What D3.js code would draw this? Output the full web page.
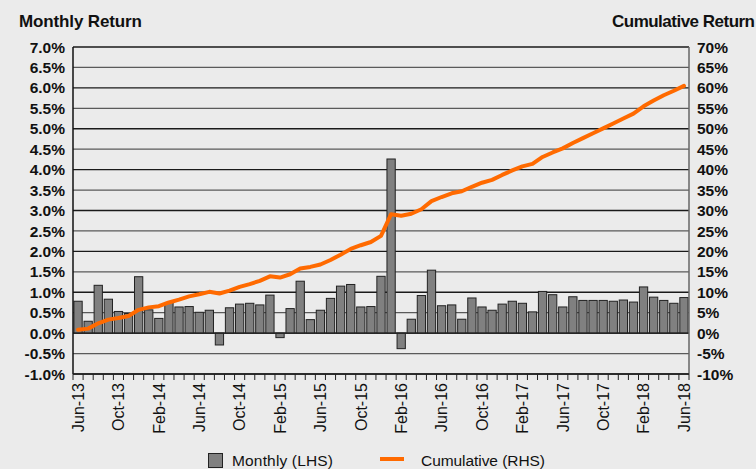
<!DOCTYPE html>
<html>
<head>
<meta charset="utf-8">
<script src="https://cdn.jsdelivr.net/npm/d3@7"></script>
<style>
  html, body { margin: 0; padding: 0; background: #ebebeb; }
  svg { display: block; font-family: "Liberation Sans", Arial, sans-serif; }
</style>
</head>
<body>
<div id="chart"></div>
<script>
// Monthly returns (%) Jun-13 .. Jun-18
const monthly = [
  0.78, 0.29, 1.17, 0.83, 0.53, 0.48, 1.38, 0.57, 0.36, 0.75,
  0.64, 0.65, 0.51, 0.56, -0.29, 0.62, 0.71, 0.73, 0.69, 0.93,
  -0.11, 0.60, 1.27, 0.33, 0.56, 0.85, 1.15, 1.19, 0.64, 0.65,
  1.39, 4.26, -0.38, 0.34, 0.92, 1.54, 0.67, 0.69, 0.34, 0.86,
  0.64, 0.56, 0.71, 0.78, 0.73, 0.52, 1.02, 0.94, 0.64, 0.89,
  0.80, 0.80, 0.80, 0.78, 0.81, 0.76, 1.13, 0.88, 0.80, 0.73,
  0.87
];

// Cumulative return (%)
const cumulative = [
  0.8, 1.1, 2.4, 3.3, 3.7, 4.2, 5.7, 6.3, 6.6, 7.5,
  8.2, 9.0, 9.5, 10.1, 9.7, 10.4, 11.3, 12.0, 12.8, 13.9,
  13.6, 14.4, 15.8, 16.2, 16.8, 17.9, 19.2, 20.6, 21.5, 22.3,
  23.8, 29.1, 28.7, 29.2, 30.3, 32.3, 33.3, 34.2, 34.7, 35.8,
  36.8, 37.5, 38.7, 39.8, 40.8, 41.4, 43.1, 44.2, 45.2, 46.5,
  47.7, 48.9, 50.1, 51.3, 52.5, 53.7, 55.5, 56.9, 58.2, 59.3,
  60.5
];

const months = d3.timeMonth.range(new Date(2013, 5, 1), new Date(2018, 6, 1));
const fmt = d3.timeFormat('%b-%y');
const categories = months.map(fmt);

const tickLabels = ['Jun-13', 'Oct-13', 'Feb-14', 'Jun-14', 'Oct-14', 'Feb-15', 'Jun-15', 'Oct-15',
  'Feb-16', 'Jun-16', 'Oct-16', 'Feb-17', 'Jun-17', 'Oct-17', 'Feb-18', 'Jun-18'];

const leftTicks = d3.range(-10, 71, 5).map(d => d / 10);   // -1.0 .. 7.0
const rightTicks = d3.range(-10, 71, 5);                   // -10 .. 70

const W = 756, H = 469;
const margin = { top: 47, right: 67, bottom: 95, left: 73 };
const innerW = W - margin.left - margin.right;
const innerH = H - margin.top - margin.bottom;

const svg = d3.select('#chart').append('svg')
  .attr('width', W)
  .attr('height', H);

svg.append('rect').attr('width', W).attr('height', H).attr('fill', '#ebebeb');

const g = svg.append('g').attr('transform', `translate(${margin.left},${margin.top})`);

const x = d3.scaleBand()
  .domain(categories)
  .range([0, innerW])
  .paddingInner(0.18)
  .paddingOuter(0.09);

const yL = d3.scaleLinear().domain([-1, 7]).range([innerH, 0]);
const yR = d3.scaleLinear().domain([-10, 70]).range([innerH, 0]);

// Grid lines
g.selectAll('.grid')
  .data(leftTicks)
  .enter()
  .append('line')
  .attr('x1', 0)
  .attr('x2', innerW)
  .attr('y1', d => yL(d))
  .attr('y2', d => yL(d))
  .style('stroke', (d, i) => i % 2 === 0 ? '#1a1a1a' : '#5a5a5a')
  .style('stroke-width', 1.3);

// Bars
g.selectAll('.bar')
  .data(monthly)
  .enter()
  .append('rect')
  .attr('x', (d, i) => x(categories[i]))
  .attr('width', x.bandwidth())
  .attr('y', d => yL(Math.max(0, d)))
  .attr('height', d => Math.abs(yL(d) - yL(0)))
  .style('fill', '#808080')
  .style('stroke', '#222')
  .style('stroke-width', 1);

// Zero line on top of bars
g.append('line')
  .attr('x1', 0).attr('x2', innerW)
  .attr('y1', yL(0)).attr('y2', yL(0))
  .style('stroke', '#222')
  .style('stroke-width', 1.3);

// Cumulative line
const line = d3.line()
  .x((d, i) => x(categories[i]) + x.bandwidth() / 2)
  .y(d => yR(d));

g.append('path')
  .datum(cumulative)
  .attr('d', line)
  .style('fill', 'none')
  .style('stroke', '#ff6a00')
  .style('stroke-width', 4)
  .style('stroke-linejoin', 'round')
  .style('stroke-linecap', 'round');

// Frame: left axis, right axis
g.append('line').attr('x1', 0).attr('x2', 0).attr('y1', 0).attr('y2', innerH)
  .style('stroke', '#111').style('stroke-width', 1.5);
g.append('line').attr('x1', innerW).attr('x2', innerW).attr('y1', 0).attr('y2', innerH)
  .style('stroke', '#666').style('stroke-width', 1.5);

// Left axis labels
g.selectAll('.ly')
  .data(leftTicks)
  .enter()
  .append('text')
  .attr('x', -8)
  .attr('y', d => yL(d))
  .attr('dy', '0.36em')
  .attr('text-anchor', 'end')
  .style('font-size', '15.5px')
  .style('font-weight', 'bold')
  .style('fill', '#111')
  .text(d => d.toFixed(1) + '%');

// Right axis labels
g.selectAll('.ry')
  .data(rightTicks)
  .enter()
  .append('text')
  .attr('x', innerW + 8)
  .attr('y', d => yR(d))
  .attr('dy', '0.36em')
  .attr('text-anchor', 'start')
  .style('font-size', '15.5px')
  .style('font-weight', 'bold')
  .style('fill', '#111')
  .text(d => d + '%');

// X axis with ticks at category boundaries
const xAxis = g.append('g').attr('transform', `translate(0,${innerH})`);
xAxis.append('line').attr('x1', 0).attr('x2', innerW)
  .style('stroke', '#222').style('stroke-width', 1.3);
xAxis.selectAll('.tick')
  .data(d3.range(categories.length + 1))
  .enter()
  .append('line')
  .attr('x1', i => i * x.step())
  .attr('x2', i => i * x.step())
  .attr('y1', 0)
  .attr('y2', 6)
  .style('stroke', '#222')
  .style('stroke-width', 1);

xAxis.selectAll('.xl')
  .data(tickLabels)
  .enter()
  .append('text')
  .attr('transform', d => `translate(${x(d) + x.bandwidth() / 2},9) rotate(-90)`)
  .attr('dy', '0.36em')
  .attr('text-anchor', 'end')
  .style('font-size', '16px')
  .style('fill', '#111')
  .text(d => d);

// Axis titles
svg.append('text')
  .attr('x', 19).attr('y', 27)
  .style('font-size', '17px').style('font-weight', 'bold').style('fill', '#111')
  .attr('textLength', 123)
  .text('Monthly Return');
svg.append('text')
  .attr('x', 612).attr('y', 27)
  .style('font-size', '17px').style('font-weight', 'bold').style('fill', '#111')
  .attr('textLength', 143)
  .text('Cumulative Return');

// Legend
const lg = svg.append('g');
lg.append('rect')
  .attr('x', 208.5).attr('y', 453.5).attr('width', 14).attr('height', 14)
  .style('fill', '#808080').style('stroke', '#222').style('stroke-width', 1);
lg.append('text')
  .attr('x', 232).attr('y', 466)
  .style('font-size', '15.5px').style('fill', '#111')
  .attr('textLength', 101)
  .text('Monthly (LHS)');
lg.append('line')
  .attr('x1', 380).attr('x2', 404).attr('y1', 459).attr('y2', 459)
  .style('stroke', '#ff6a00').style('stroke-width', 4);
lg.append('text')
  .attr('x', 421).attr('y', 466)
  .style('font-size', '15.5px').style('fill', '#111')
  .attr('textLength', 124)
  .text('Cumulative (RHS)');
</script>
</body>
</html>
